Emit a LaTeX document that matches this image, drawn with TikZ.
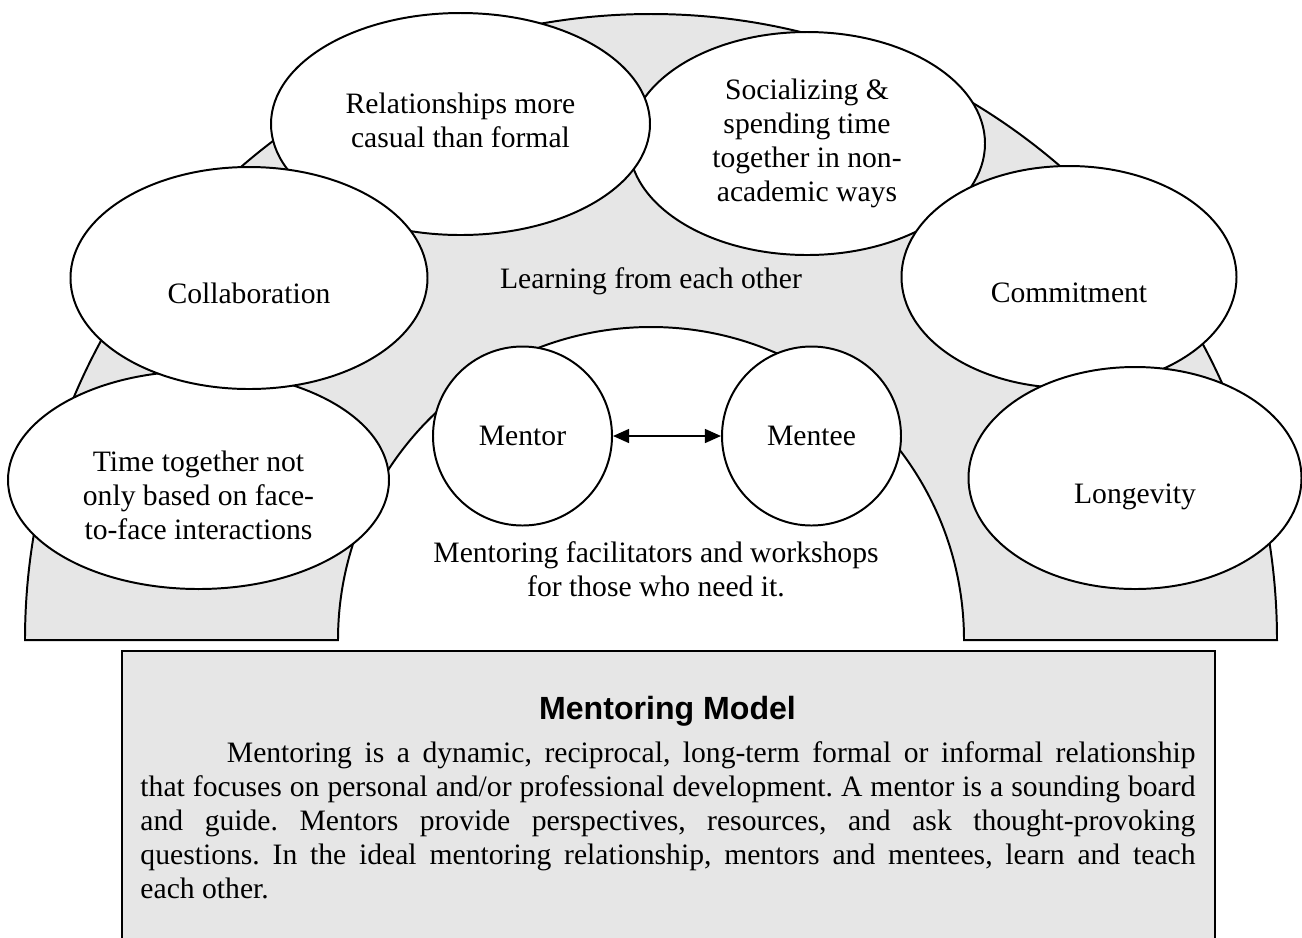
\documentclass[tikz,border=0pt]{standalone}
\usepackage{fontspec}
\setmainfont{Liberation Serif}
\setsansfont{Liberation Sans}
\usepackage{tikz}
\usetikzlibrary{shapes.geometric,arrows.meta,positioning}
\definecolor{bandgray}{HTML}{E6E6E6}
\tikzset{
    oval/.style 2 args={
                draw,
                fill=white,
                ellipse,
                line width=0.8pt,
                inner sep=0pt,
                minimum width=#1*0.405pt,
                minimum height=#2*0.405pt
            },
        disc/.style={
                draw,
                fill=white,
                circle,
                line width=0.8pt,
                inner sep=0pt,
                minimum size=179*0.405pt,
                font=\fontsize{12}{13.8}\selectfont
            },
        txt/.style={
                align=center,
                inner sep=0pt,
                font=\fontsize{12}{13.8}\selectfont
            },
}

\begin{document}
\begin{tikzpicture}[
    x=0.405pt, y=-0.405pt,
    band/.style={
        draw,
        fill=bandgray,
        line width=0.8pt},
    panel/.style={
        draw,
        fill=bandgray,
        line width=0.8pt,
        inner sep=0pt,
        anchor=north west,
        minimum width=1093*0.405pt,
        minimum height=310*0.405pt},
    heading/.style={
        inner sep=0pt,
        font=\fontsize{13}{15}\selectfont\sffamily\bfseries},
    blurb/.style={
        inner sep=0pt,
        text width=1055*0.405pt,
        align=justify,
        font=\fontsize{12}{13.8}\selectfont},
    link/.style={
        line width=0.8pt,
        {Triangle[length=6.5pt,width=5.6pt]}-{Triangle[length=6.5pt,width=5.6pt]}},
  ]
  \path[use as bounding box, clip] (0,0) rectangle (1302,937);
  % Arch
  \draw[band] (25,640) arc[start angle=180, end angle=360, radius=626]
    -- (964,640) arc[start angle=0, end angle=-180, radius=313] -- cycle;
  % Ovals round the arch
  \node[oval={381}{218}] (tog) at (198.5,480) {};
  \node[txt] (togtxt) at ([yshift=-6.2pt]tog.center) {Time together not\\only based on face-\\to-face interactions};
  \node[oval={356}{223}] (social) at (807,143.5) {};
  \node[txt] (socialtxt) at (social.center) {Socializing \&\\spending time\\together in non-\\academic ways};
  \node[oval={379}{222}] (casual) at (460.5,124) {};
  \node[txt] (casualtxt) at ([yshift=1.6pt]casual.center) {Relationships more\\casual than formal};
  \node[oval={357}{222}] (collab) at (249,278) {};
  \node[txt] (collabtxt) at ([yshift=-6.2pt]collab.center) {Collaboration};
  \node[oval={335}{222}] (commit) at (1069,277) {};
  \node[txt] (committxt) at ([yshift=-6.6pt]commit.center) {Commitment};
  \node[oval={333}{222}] (longev) at (1135,478) {};
  \node[txt] (longevtxt) at ([yshift=-7.7pt]longev.center) {Longevity};
  % Mentor and mentee
  \node[disc] (mentor) at (522.5,436) {Mentor};
  \node[disc] (mentee) at (811.5,436) {Mentee};
  \draw[link] (mentor) -- (mentee);
  \node[txt] (learn) at (651,281) {Learning from each other};
  \node[txt] (facil) at (656,569) {Mentoring facilitators and workshops\\for those who need it.};
  % Model box
  \node[panel] (model) at (121,650) {};
  \node[heading, anchor=base] (modeltitle) at (667.5,719) {Mentoring Model};
  \node[blurb, anchor=base west] (modeltext) at (140,762) {\frenchspacing\hyphenpenalty=10000 \exhyphenpenalty=10000
    \hspace*{35pt}Mentoring is a dynamic, reciprocal, long-term formal or informal relationship\linebreak
    that focuses on personal and/or professional development. A mentor is a sounding board\linebreak
    and guide. Mentors provide perspectives, resources, and ask thought-provoking\linebreak
    questions. In the ideal mentoring relationship, mentors and mentees, learn and teach\linebreak
    each other.};
\end{tikzpicture}
\end{document}
